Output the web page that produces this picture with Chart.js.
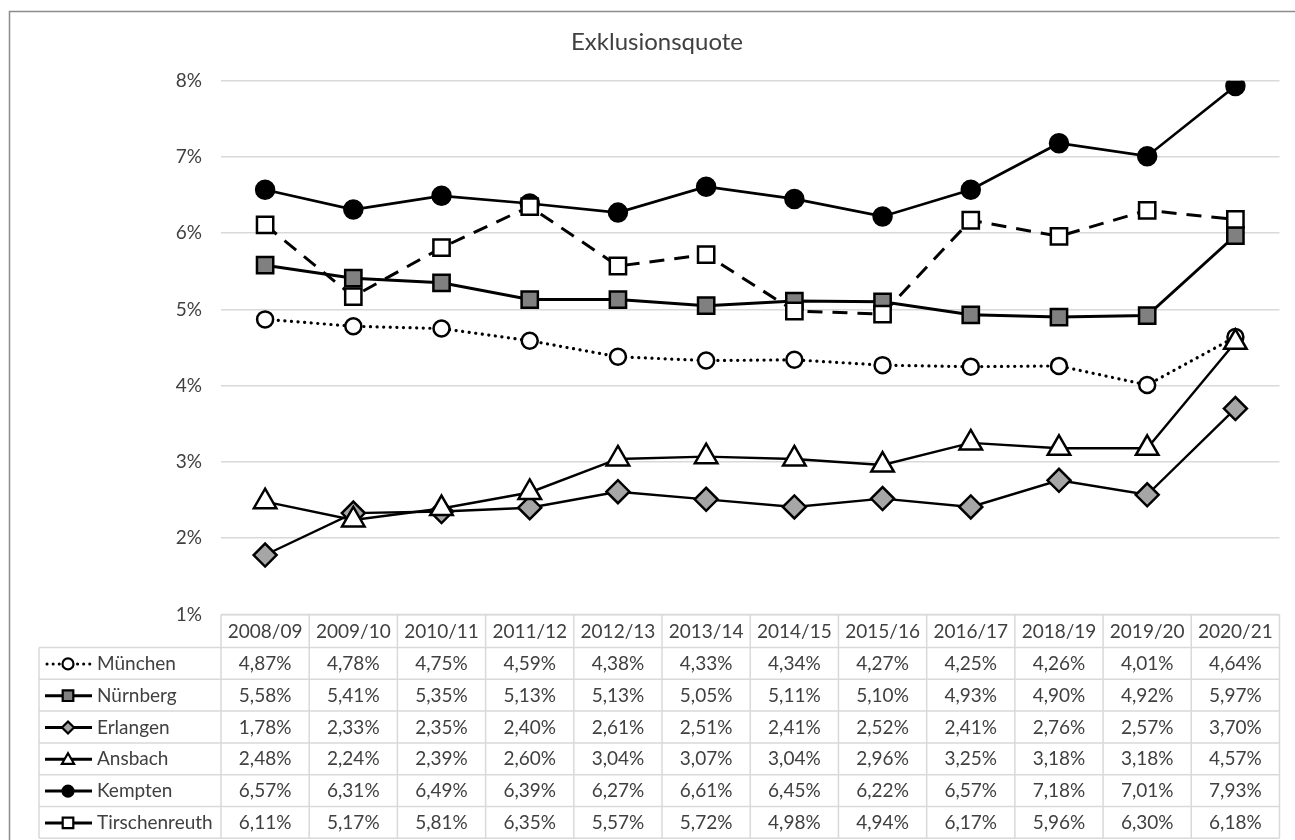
<!DOCTYPE html>
<html lang="de">
<head>
<meta charset="utf-8">
<title>Exklusionsquote</title>
<script src="https://cdn.jsdelivr.net/npm/chart.js@4.4.1/dist/chart.umd.min.js"></script>
<style>
  html, body { margin: 0; padding: 0; background: #ffffff; }
  #wrap { width: 1295px; height: 840px; }
</style>
</head>
<body>
<div id="wrap"><canvas id="chart" width="1295" height="840"></canvas></div>
<script>
// School years (2017/18 is not part of the series)
const schoolYears = ['2008/09', '2009/10', '2010/11', '2011/12', '2012/13', '2013/14',
                     '2014/15', '2015/16', '2016/17', '2018/19', '2019/20', '2020/21'];

// Exclusion rate per city, in percent
const muenchen      = [4.87, 4.78, 4.75, 4.59, 4.38, 4.33, 4.34, 4.27, 4.25, 4.26, 4.01, 4.64];
const nuernberg     = [5.58, 5.41, 5.35, 5.13, 5.13, 5.05, 5.11, 5.10, 4.93, 4.90, 4.92, 5.97];
const erlangen      = [1.78, 2.33, 2.35, 2.40, 2.61, 2.51, 2.41, 2.52, 2.41, 2.76, 2.57, 3.70];
const ansbach       = [2.48, 2.24, 2.39, 2.60, 3.04, 3.07, 3.04, 2.96, 3.25, 3.18, 3.18, 4.57];
const kempten       = [6.57, 6.31, 6.49, 6.39, 6.27, 6.61, 6.45, 6.22, 6.57, 7.18, 7.01, 7.93];
const tirschenreuth = [6.11, 5.17, 5.81, 6.35, 5.57, 5.72, 4.98, 4.94, 6.17, 5.96, 6.30, 6.18];

const cityNames = ['München', 'Nürnberg', 'Erlangen', 'Ansbach', 'Kempten', 'Tirschenreuth'];
const yTicks = [1, 2, 3, 4, 5, 6, 7, 8];

const FONT = 'Lato, "Open Sans", sans-serif';
const TEXT = '#404040';
const GRID = '#d9d9d9';

const fmt = v => v.toFixed(2).replace('.', ',') + '%';

function series(label, data, style, idx) {
  return Object.assign({
    label: label,
    data: data,
    borderColor: '#000000',
    pointBorderColor: '#000000',
    pointBorderWidth: 2.5,
    pointHoverRadius: 0,
    borderWidth: 2.7,
    tension: 0,
    fill: false,
    order: 6 - idx,
    keyDotted: false,
    keyRadius: 7
  }, style);
}

const datasets = [
  series(cityNames[0], muenchen, {
    borderDash: [0.1, 6.5], borderCapStyle: 'round', borderWidth: 3.2, keyDotted: true,
    pointStyle: 'circle', pointRadius: 8, pointBackgroundColor: '#ffffff', keyRadius: 5.5
  }, 0),
  series(cityNames[1], nuernberg, {
    borderWidth: 3,
    pointStyle: 'rect', pointRadius: 11.5, pointBackgroundColor: '#808080', keyRadius: 7.5
  }, 1),
  series(cityNames[2], erlangen, {
    borderWidth: 2.4,
    pointStyle: 'rectRot', pointRadius: 11.5, pointBackgroundColor: '#a6a6a6', keyRadius: 6
  }, 2),
  series(cityNames[3], ansbach, {
    borderWidth: 2.4,
    pointStyle: 'triangle', pointRadius: 13, pointBackgroundColor: '#ffffff', keyRadius: 7
  }, 3),
  series(cityNames[4], kempten, {
    pointStyle: 'circle', pointRadius: 9, pointBackgroundColor: '#000000', keyRadius: 5.5
  }, 4),
  series(cityNames[5], tirschenreuth, {
    borderDash: [15, 10], borderWidth: 3,
    pointStyle: 'rect', pointRadius: 11.5, pointBackgroundColor: '#ffffff', keyRadius: 7.5
  }, 5)
];

// Frame of the chart object plus the data table with legend keys below the plot
const tablePlugin = {
  id: 'dataTable',
  beforeDraw(chart) {
    const ctx = chart.ctx;
    ctx.save();
    ctx.fillStyle = '#ffffff';
    ctx.fillRect(0, 0, chart.width, chart.height);
    ctx.strokeStyle = '#8c8c8c';
    ctx.lineWidth = 1.5;
    ctx.beginPath();
    ctx.moveTo(9.5, chart.height + 5);
    ctx.lineTo(9.5, 11.5);
    ctx.lineTo(chart.width + 5, 11.5);
    ctx.stroke();
    ctx.restore();
  },
  afterDraw(chart) {
    const ctx = chart.ctx;
    const xs = chart.scales.x;
    const area = chart.chartArea;
    const n = schoolYears.length;
    const colW = (area.right - area.left) / n;
    const headTop = area.bottom;
    const headBottom = headTop + 33;
    const rowH = 31.8;
    const keyLeft = 39;
    const tableBottom = headBottom + rowH * datasets.length;

    ctx.save();
    ctx.strokeStyle = GRID;
    ctx.lineWidth = 1.5;
    ctx.beginPath();
    // header row
    ctx.moveTo(area.left, headTop); ctx.lineTo(area.right, headTop);
    // row separators
    for (let r = 0; r <= datasets.length; r++) {
      const y = headBottom + r * rowH;
      ctx.moveTo(keyLeft, y); ctx.lineTo(area.right, y);
    }
    // column separators
    for (let c = 0; c <= n; c++) {
      const x = area.left + c * colW;
      ctx.moveTo(x, headTop); ctx.lineTo(x, tableBottom);
    }
    ctx.moveTo(keyLeft, headBottom); ctx.lineTo(keyLeft, tableBottom);
    ctx.stroke();

    ctx.fillStyle = TEXT;
    ctx.font = '19px ' + FONT;
    ctx.textAlign = 'center';
    ctx.textBaseline = 'middle';
    schoolYears.forEach((lab, i) => {
      ctx.fillText(lab, xs.getPixelForValue(i), (headTop + headBottom) / 2 + 1);
    });

    datasets.forEach((ds, r) => {
      const yMid = headBottom + r * rowH + rowH / 2 + 0.5;
      ctx.fillStyle = TEXT;
      ctx.textAlign = 'center';
      ds.data.forEach((v, i) => {
        ctx.fillText(fmt(v), xs.getPixelForValue(i), yMid);
      });
      ctx.textAlign = 'left';
      ctx.fillText(ds.label, 97, yMid);

      // legend key: line sample plus marker
      const ky = yMid;
      ctx.save();
      ctx.strokeStyle = '#000000';
      ctx.beginPath();
      if (ds.keyDotted) {
        ctx.lineWidth = 3;
        ctx.lineCap = 'round';
        ctx.setLineDash([0.1, 6]);
        ctx.moveTo(47, ky); ctx.lineTo(92, ky);
      } else {
        ctx.lineWidth = 3;
        ctx.moveTo(45, ky); ctx.lineTo(92, ky);
      }
      ctx.stroke();
      ctx.setLineDash([]);
      ctx.fillStyle = ds.pointBackgroundColor;
      ctx.strokeStyle = '#000000';
      ctx.lineWidth = 2.2;
      Chart.helpers.drawPoint(ctx, {
        pointStyle: ds.pointStyle,
        radius: ds.keyRadius,
        rotation: 0,
        borderWidth: 2.2
      }, 68, ky + (ds.pointStyle === 'triangle' ? 1 : 0));
      ctx.restore();
    });
    ctx.restore();
  }
};

new Chart(document.getElementById('chart'), {
  type: 'line',
  data: { labels: schoolYears, datasets: datasets },
  plugins: [tablePlugin],
  options: {
    responsive: false,
    animation: false,
    events: [],
    layout: { padding: { left: 28, right: 9, top: 0, bottom: 225.5 } },
    plugins: {
      legend: { display: false },
      tooltip: { enabled: false },
      title: {
        display: true,
        text: 'Exklusionsquote',
        color: TEXT,
        font: { family: FONT, size: 24, weight: 'normal', lineHeight: 1.2 },
        padding: { top: 27.6, bottom: 24.3 }
      }
    },
    scales: {
      x: { display: false, offset: true },
      y: {
        min: 1, max: 8,
        afterFit(scale) { scale.width = 193; },
        afterBuildTicks(scale) { scale.ticks = yTicks.map(v => ({ value: v })); },
        border: { display: false },
        grid: { color: GRID, lineWidth: 1.5, drawTicks: false },
        ticks: {
          color: TEXT,
          padding: 19,
          font: { family: FONT, size: 19 },
          callback: v => v + '%'
        }
      }
    }
  }
});
</script>
</body>
</html>
